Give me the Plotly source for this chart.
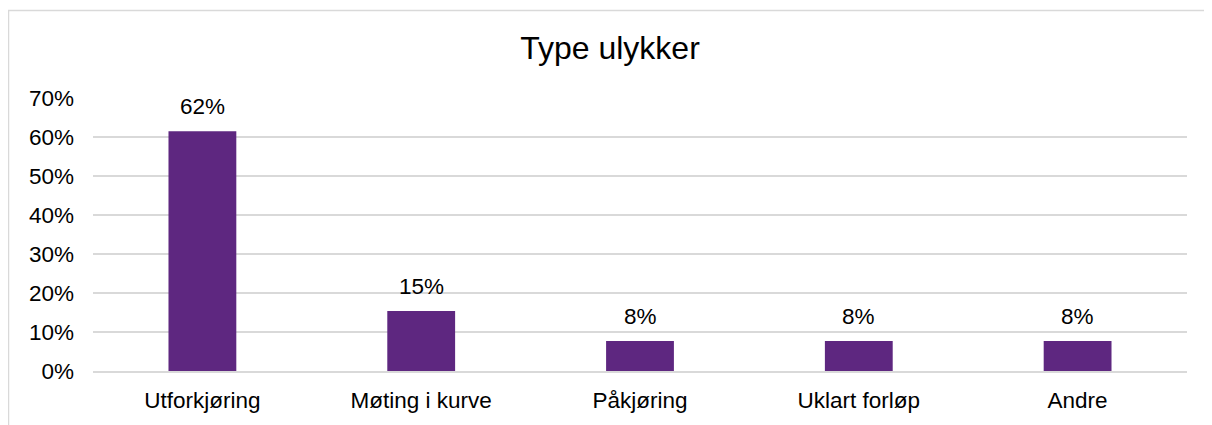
import plotly.graph_objects as go

categories = ["Utforkjøring", "Møting i kurve", "Påkjøring", "Uklart forløp", "Andre"]
shares = [61.5, 15.4, 7.7, 7.7, 7.7]
y_ticks = [0, 10, 20, 30, 40, 50, 60, 70]

BAR_COLOR = "#5E2780"
GRID = "#d9d9d9"
FONT = "Liberation Sans, Arial, sans-serif"
TXT = 22.5

# the page body has an 8px default margin, so the figure is sized to fit
W, H = 1204, 417
L, R, T, B = 85, 25, 90, 48
plot_w = W - L - R
plot_h = H - T - B

fig = go.Figure()
fig.add_trace(go.Bar(
    x=categories,
    y=shares,
    marker=dict(color=BAR_COLOR, line=dict(width=0)),
    hoverinfo="skip",
))

# data labels above the bars
for cat, val in zip(categories, shares):
    fig.add_annotation(
        x=cat, y=val, text=f"{val:.0f}%",
        showarrow=False, yanchor="bottom", yshift=10,
        font=dict(size=TXT, color="#000000", family=FONT),
    )

# light chart border (cut off on the right and bottom, like the source)
fig.add_shape(
    type="rect", xref="paper", yref="paper",
    x0=(0.5 - L) / plot_w, x1=1.05,
    y0=-0.5, y1=1 + (T - 0.5) / plot_h,
    line=dict(color=GRID, width=1.5), layer="below",
)

fig.update_layout(
    width=W, height=H,
    margin=dict(l=L, r=R, t=T, b=B),
    paper_bgcolor="white",
    plot_bgcolor="white",
    showlegend=False,
    bargap=0.69,
    font=dict(family=FONT, color="#000000", size=TXT),
    title=dict(
        text="Type ulykker", x=0.5, xanchor="center",
        y=1 - 40 / H, yanchor="middle",
        font=dict(size=32, family=FONT, color="#000000"),
    ),
)

fig.update_yaxes(
    range=[0, 70], tickvals=y_ticks, ticktext=[f"{t}%" for t in y_ticks],
    showgrid=True, gridcolor=GRID, gridwidth=1.5,
    zeroline=False, showline=False, ticks="",
    ticklabelstandoff=18,
    tickfont=dict(size=TXT, family=FONT, color="#000000"),
)
fig.update_xaxes(
    showgrid=False, showline=True, linecolor=GRID, linewidth=1.5,
    ticks="", ticklabelstandoff=8,
    tickfont=dict(size=TXT, family=FONT, color="#000000"),
)

fig.write_html("out.html")
